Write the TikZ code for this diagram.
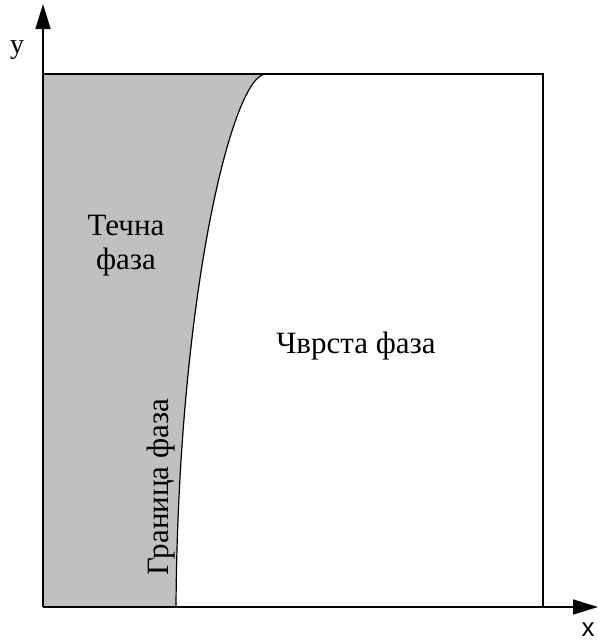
\documentclass[tikz,border=0pt]{standalone}
\usepackage{fontspec}
\setmainfont{Liberation Serif}
\newfontfamily\axisfont{Liberation Sans}
\usetikzlibrary{arrows.meta}
\definecolor{phaseGray}{HTML}{C0C0C0}

\begin{document}
\begin{tikzpicture}[
  x=1pt, y=-1pt,
  axis/.style={line width=1.6pt, -{Triangle[length=25pt, width=15pt]}},
  frame/.style={line width=1.2pt},
  label/.style={font=\fontsize{31}{34}\selectfont, align=center},
]
  \useasboundingbox (0,0) rectangle (601,643);
  % corners of the domain
  \coordinate (o)  at (43,607);
  \coordinate (tl) at (43,74);
  \coordinate (tr) at (543,74);
  \coordinate (br) at (543,607);
  \coordinate (ftop) at (266,74);
  \coordinate (fbot) at (176,607);
  % liquid phase
  \fill[phaseGray] (tl) -- (ftop) .. controls (232,74) and (178,300) .. (fbot) -- (o) -- cycle;
  % frame and interface
  \draw[frame] (tl) -- (tr) -- (br);
  \draw[frame] (fbot) .. controls (178,300) and (232,74) .. (ftop);
  % axes
  \coordinate (xend) at (598,607);
  \coordinate (yend) at (43,4);
  \draw[axis] (o) -- (xend);
  \draw[axis] (o) -- (yend);
  \node[font=\fontsize{28}{30}\selectfont] (ylab) at (17,50) {y};
  \node[font=\axisfont\fontsize{26}{28}\selectfont] (xlab) at (588,630) {x};
  % phase names
  \node[label] (liquid) at (126,246) {Течна\\фаза};
  \node[label] (solid)  at (356,346) {Чврста фаза};
  \node[label, rotate=90] (interface) at (161,487) {Граница фаза};
\end{tikzpicture}
\end{document}
